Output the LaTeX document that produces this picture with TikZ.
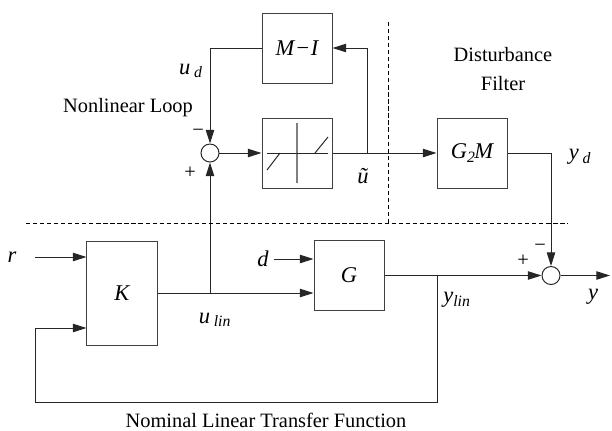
\documentclass[tikz,border=0pt]{standalone}
\usepackage{fontspec}
\setmainfont{Liberation Serif}
\usetikzlibrary{arrows.meta, positioning, calc}

\begin{document}
\begin{tikzpicture}[x=0.025cm, y=-0.025cm,
  font=\fontsize{14.5}{17}\selectfont,
  wire/.style={line width=0.7pt, black!85},
  sig/.style={wire, -{Triangle[length=3.4mm, width=2.1mm]}},
  blk/.style={draw, line width=0.7pt, black!75, text=black, minimum width=1.75cm, minimum height=1.75cm, inner sep=0pt, var},
  var/.style={font=\fontsize{16}{19}\selectfont\itshape},
  sumnode/.style={draw, circle, line width=0.7pt, black!85, minimum size=0.45cm, inner sep=0pt},
  sep/.style={line width=0.6pt, dash pattern=on 3pt off 2pt}]
  \useasboundingbox (0,0) rectangle (612,430);

  % Blocs
  \node[blk] (MI) at (297,48) {M\kern0.5pt−\kern0.5pt I};
  \node[blk] (sat) at (297,153) {};
  \node[blk] (GM) at (472,153) {G\textsubscript{2}\kern-1pt M};
  \node[blk, minimum height=2.6cm] (K) at (122,293) {K};
  \node[blk] (G) at (349,275.5) {G};

  % Sommateurs
  \node[sumnode] (s1) at (210,153) {};
  \node[sumnode] (s2) at (551,275.5) {};

  % Saturation
  \draw[gray, line width=0.9pt] ($(sat)+(0,-30)$) -- ($(sat)+(0,30)$);
  \draw[wire] ($(sat)+(-30,0)$) -- ($(sat)+(31,0)$);
  \draw[wire] ($(sat)+(-30,17)$) -- ($(sat)+(-17,0)$);
  \draw[wire] ($(sat)+(18,0)$) -- ($(sat)+(31,-16)$);

  % Points
  \coordinate (br1) at (367,153);
  \coordinate (br2) at (s1 |- K.east);
  \coordinate (br3) at (437,275.5);
  \coordinate (rin) at (35,257);
  \coordinate (fb) at (35,402);
  \coordinate (fbin) at (35,328);
  \coordinate (yout) at (610,275.5);

  % Labels
  \node[var] (r) at (12,257) {r};
  \node[var] (d) at (263,259) {d};
  \node[var] (ud) at (191,71) {u\,\textsubscript{d}};
  \node[var] (ut) at (363,176) {ũ};
  \node[var] (yd) at (580,157) {y\,\textsubscript{d}};
  \node[var] (ulin) at (215,320) {u\,\textsubscript{lin}};
  \node[var] (ylin) at (457,300) {y\textsubscript{lin}};
  \node[var] (y) at (593,297) {y};
  \node (m1) at (198,133) {−};
  \node (p1) at (190,173) {+};
  \node (m2) at (540,248) {−};
  \node (p2) at (523,261) {+};
  \node (nl) at (128,108) {Nonlinear Loop};
  \node (dist) at (503,55) {Disturbance};
  \node (filt) at (503,84) {Filter};
  \node (nom) at (266,420) {Nominal Linear Transfer Function};

  % Boucle non lineaire
  \draw[sig] (s1) -- (sat);
  \draw[wire] (sat.east) -- (br1);
  \draw[sig] (br1) -- (GM.west);
  \draw[sig] (br1) |- (MI.east);
  \draw[sig] (MI.west) -| (s1.north);

  % Boucle lineaire
  \draw[sig] (rin) -- (rin -| K.west);
  \draw[sig] (K.east) -- (K.east -| G.west);
  \draw[sig] (br2) -- (s1.south);
  \draw[sig] (d.east) -- (d.east -| G.west);
  \draw[wire] (G.east) -- (br3);
  \draw[sig] (br3) -- (s2.west);
  \draw[sig] (br3) |- (fb) -- (fbin) -- (fbin -| K.west);
  \draw[sig] (GM.east) -| (s2.north);
  \draw[sig] (s2.east) -- (yout);

  % Separations
  \coordinate (dl) at (26,223);
  \coordinate (dr) at (568,223);
  \coordinate (dt) at (388,22);
  \draw[sep] (dl) -- (dr);
  \draw[sep] (dt) -- (dt |- dl);
\end{tikzpicture}
\end{document}
